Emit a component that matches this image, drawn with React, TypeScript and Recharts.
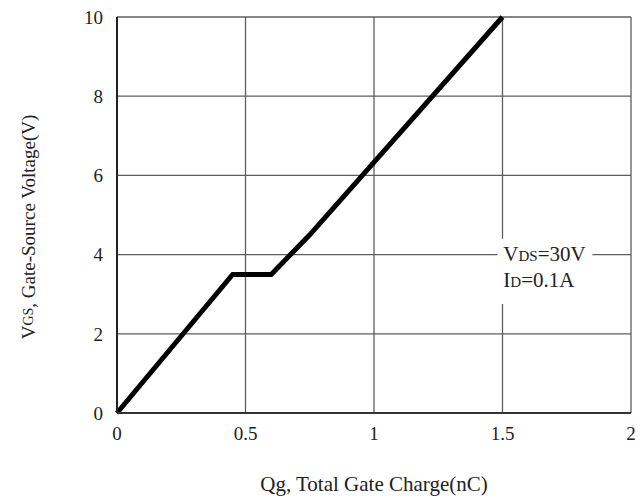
import { LineChart, Line, XAxis, YAxis, CartesianGrid, ReferenceArea, Label } from "recharts";

// gate charge curve
const qg = [0, 0.45, 0.6, 0.75, 1.5];
const vgs = [0, 3.5, 3.5, 4.5, 10];
const xTicks = [0, 0.5, 1, 1.5, 2];
const yTicks = [0, 2, 4, 6, 8, 10];

const data = qg.map((q, i) => ({ q, v: vgs[i] }));

const FONT = "'Liberation Serif', 'Times New Roman', serif";

const YLabel = (props: any) => {
  const { viewBox } = props;
  const cx = 28;
  const cy = viewBox.y + viewBox.height / 2 + 12;
  return (
    <text
      x={cx}
      y={cy}
      transform={`rotate(-90 ${cx} ${cy})`}
      textAnchor="middle"
      dominantBaseline="central"
      fontFamily={FONT}
      fontSize={19}
      fill="#222"
    >
      <tspan>V</tspan>
      <tspan fontSize={14}>GS</tspan>
      <tspan>, Gate-Source Voltage(V)</tspan>
    </text>
  );
};

const Note = (props: any) => {
  const { viewBox } = props;
  const x = viewBox.x + 6;
  const y = viewBox.y;
  return (
    <g fontFamily={FONT} fill="#222">
      <text x={x} y={y + 22} fontSize={21}>
        <tspan>V</tspan>
        <tspan fontSize={15}>DS</tspan>
        <tspan>=30V</tspan>
      </text>
      <text x={x} y={y + 48} fontSize={21}>
        <tspan>I</tspan>
        <tspan fontSize={15}>D</tspan>
        <tspan>=0.1A</tspan>
      </text>
    </g>
  );
};

export default function App() {
  return (
    <div style={{ position: "absolute", left: 0, top: 0, background: "#fff" }}>
      <LineChart
        width={643}
        height={498}
        data={data}
        margin={{ top: 17, right: 12, bottom: 55, left: 57 }}
      >
        <CartesianGrid stroke="#5e5e5e" strokeWidth={1.3} />
        <XAxis
          dataKey="q"
          type="number"
          domain={[0, 2]}
          ticks={xTicks}
          tickFormatter={(v) => String(v)}
          tickLine={false}
          tickSize={0}
          tickMargin={14}
          axisLine={{ stroke: "#333", strokeWidth: 2 }}
          height={30}
          tick={{ fontFamily: FONT, fontSize: 19, fill: "#222" }}
        >
          <Label
            value="Qg, Total Gate Charge(nC)"
            position="bottom"
            offset={33}
            style={{ fontFamily: FONT, fontSize: 21, fill: "#222" }}
          />
        </XAxis>
        <YAxis
          type="number"
          domain={[0, 10]}
          ticks={yTicks}
          tickLine={false}
          tickSize={0}
          tickMargin={14}
          axisLine={{ stroke: "#222", strokeWidth: 2 }}
          width={60}
          tick={{ fontFamily: FONT, fontSize: 19, fill: "#222" }}
        >
          <Label content={<YLabel />} />
        </YAxis>
        <ReferenceArea
          x1={1.48}
          x2={1.85}
          y1={2.75}
          y2={4.4}
          fill="#fff"
          fillOpacity={1}
          stroke="none"
          ifOverflow="visible"
          label={<Note />}
        />
        <Line
          type="linear"
          dataKey="v"
          stroke="#000"
          strokeWidth={5}
          dot={false}
          isAnimationActive={false}
        />
      </LineChart>
    </div>
  );
}
